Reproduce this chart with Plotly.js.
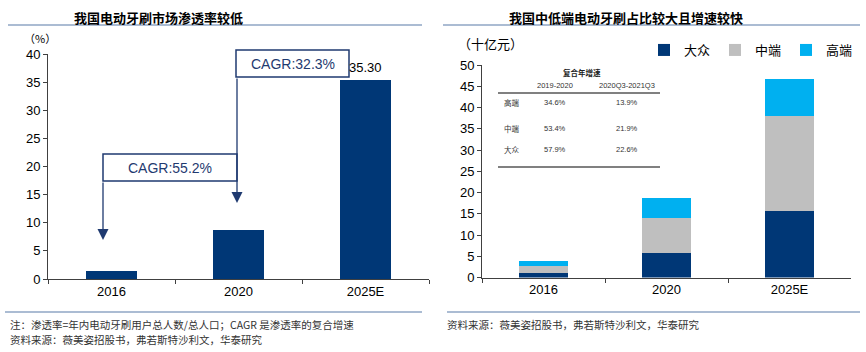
<!DOCTYPE html>
<html>
<head>
<meta charset="utf-8">
<script src="https://cdn.plot.ly/plotly-3.0.1.min.js"></script>
<style>html,body{margin:0;padding:0;background:#fff;}#chart{width:866px;height:352px;}</style>
</head>
<body>
<div id="chart"></div>
<script>
// ---- data ----
const years = ['2016', '2020', '2025E'];
const penetration = [1.50, 8.70, 35.30];
const massMarket = [1.1, 5.7, 15.6];   // 大众
const midMarket = [1.5, 8.3, 22.3];    // 中端
const highMarket = [1.3, 4.7, 8.7];    // 高端
const seriesNames = ['大众', '中端', '高端'];
const cagrLabels = ['CAGR:55.2%', 'CAGR:32.3%'];
const tableTitle = '复合年增速';
const tableHeaders = ['2019-2020', '2020Q3-2021Q3'];
const tableRows = ['高端', '中端', '大众'];
const cagr1920 = ['34.6%', '53.4%', '57.9%'];
const cagr2021 = ['13.9%', '21.9%', '22.6%'];

const W = 866, H = 352;
const px = v => v / W;
const py = v => 1 - v / H;
const NAVY = '#003776';
const LINE = '#1f3a70';
const CJK = '"Noto Sans CJK SC", sans-serif';
const LAT = '"Liberation Sans", Arial, sans-serif';

const traces = [
  {type: 'bar', x: years, y: penetration, xaxis: 'x', yaxis: 'y', marker: {color: NAVY},
   width: 0.4, showlegend: false, hoverinfo: 'skip'},
  {type: 'bar', x: years, y: massMarket, name: seriesNames[0], xaxis: 'x2', yaxis: 'y2',
   marker: {color: '#003776'}, width: 0.4},
  {type: 'bar', x: years, y: midMarket, name: seriesNames[1], xaxis: 'x2', yaxis: 'y2',
   marker: {color: '#BFBFBF'}, width: 0.4},
  {type: 'bar', x: years, y: highMarket, name: seriesNames[2], xaxis: 'x2', yaxis: 'y2',
   marker: {color: '#00B0F0'}, width: 0.4}
];

const axisBase = {
  showgrid: false, zeroline: false, showline: true, linecolor: '#404040', linewidth: 1,
  ticks: 'outside', ticklen: 4, tickcolor: '#404040',
  tickfont: {family: LAT, size: 13, color: '#000'}, fixedrange: true, automargin: false
};

const annotations = [];
const shapes = [];
// paper-pixel text helper
function txt(x, y, text, font, extra) {
  annotations.push(Object.assign({xref: 'paper', yref: 'paper', x: px(x), y: py(y), text: text,
    showarrow: false, xanchor: 'center', yanchor: 'middle', font: font}, extra || {}));
}
function hline(x0, x1, y, color, width) {
  shapes.push({type: 'line', xref: 'paper', yref: 'paper', x0: px(x0), x1: px(x1), y0: py(y), y1: py(y),
    line: {color: color, width: width}});
}

// titles
txt(158, 17, '我国电动牙刷市场渗透率较低', {family: CJK, size: 13, color: '#000', weight: 'bold'});
txt(626, 17, '我国中低端电动牙刷占比较大且增速较快', {family: CJK, size: 13, color: '#000', weight: 'bold'});
// title rules
hline(8, 422, 25, '#8fa6c4', 1.5);
hline(443, 860, 25, '#8fa6c4', 1.5);
// footer rules
hline(5, 422, 312, '#8fa6c4', 1.5);
hline(447, 860, 312, '#8fa6c4', 1.5);
// unit labels
txt(40, 38, '（%）', {family: CJK, size: 11, color: '#000'});
txt(490, 43, '（十亿元）', {family: CJK, size: 13, color: '#000'});
// footers
const foot = {family: CJK, size: 10.5, color: '#333'};
txt(8, 324, '注：渗透率=年内电动牙刷用户总人数/总人口；CAGR 是渗透率的复合增速', foot, {xanchor: 'left'});
txt(8, 339, '资料来源：薇美姿招股书，弗若斯特沙利文，华泰研究', foot, {xanchor: 'left'});
txt(445, 324, '资料来源：薇美姿招股书，弗若斯特沙利文，华泰研究', foot, {xanchor: 'left'});

// value labels on left bars
years.forEach((yr, i) => {
  annotations.push({xref: 'x', yref: 'y', x: yr, y: penetration[i], xanchor: 'center', yanchor: 'middle', yshift: 13,
    text: penetration[i].toFixed(2), showarrow: false, font: {family: LAT, size: 13, color: '#000'}});
});

// CAGR boxes
const boxes = [
  {x0: 103, x1: 237, y0: 154, y1: 181, tipX: 103, tipY: 240},
  {x0: 236, x1: 349, y0: 50, y1: 77, tipX: 237, tipY: 203}
];
boxes.forEach((b, i) => {
  shapes.push({type: 'rect', xref: 'paper', yref: 'paper', x0: px(b.x0), x1: px(b.x1), y0: py(b.y0), y1: py(b.y1),
    line: {color: LINE, width: 1.5}, fillcolor: 'rgba(255,255,255,0)'});
  txt((b.x0 + b.x1) / 2, (b.y0 + b.y1) / 2, cagrLabels[i], {family: LAT, size: 14, color: LINE});
  annotations.push({xref: 'paper', yref: 'paper', x: px(b.tipX), y: py(b.tipY), text: '',
    showarrow: true, axref: 'pixel', ayref: 'pixel', ax: 0, ay: -(b.tipY - b.y1),
    arrowhead: 2, arrowsize: 1.7, arrowwidth: 1.3, arrowcolor: LINE, standoff: 0});
});

// inner table
const tcj = {family: CJK, size: 7.5, color: '#333'};
const tla = {family: LAT, size: 7.5, color: '#333'};
txt(582, 72, tableTitle, {family: CJK, size: 7.5, color: '#222', weight: 'bold'});
txt(555, 85, tableHeaders[0], tla);
txt(627, 85, tableHeaders[1], tla);
hline(498, 660, 93, '#808080', 2);
hline(498, 660, 167, '#808080', 2);
const rowY = [102, 128, 149];
tableRows.forEach((r, i) => {
  txt(512, rowY[i], r, tcj);
  txt(555, rowY[i], cagr1920[i], tla);
  txt(627, rowY[i], cagr2021[i], tla);
});

const layout = {
  width: W, height: H,
  margin: {l: 0, r: 0, t: 0, b: 0, pad: 0, autoexpand: false},
  paper_bgcolor: '#fff', plot_bgcolor: '#fff',
  barmode: 'stack', bargap: 0.6,
  showlegend: true,
  legend: {orientation: 'h', x: px(644), xanchor: 'left', y: py(50), yanchor: 'middle',
    entrywidth: 26, entrywidthmode: 'pixels', itemwidth: 30,
    font: {family: CJK, size: 13, color: '#000'}, bgcolor: 'rgba(0,0,0,0)', traceorder: 'normal'},
  xaxis: Object.assign({}, axisBase, {domain: [px(48), px(429)], anchor: 'y', type: 'category',
    tickson: 'boundaries', range: [-0.5, 2.5]}),
  yaxis: Object.assign({}, axisBase, {domain: [1 - 279 / H, 1 - 54 / H], anchor: 'x', range: [0, 40], dtick: 5}),
  xaxis2: Object.assign({}, axisBase, {domain: [px(482), px(851)], anchor: 'y2', type: 'category',
    tickson: 'boundaries', range: [-0.5, 2.5]}),
  yaxis2: Object.assign({}, axisBase, {domain: [1 - 277.5 / H, 1 - 65 / H], anchor: 'x2', range: [0, 50], dtick: 5}),
  annotations: annotations,
  shapes: shapes
};

Plotly.newPlot('chart', traces, layout, {displayModeBar: false, staticPlot: true});
</script>
</body>
</html>
